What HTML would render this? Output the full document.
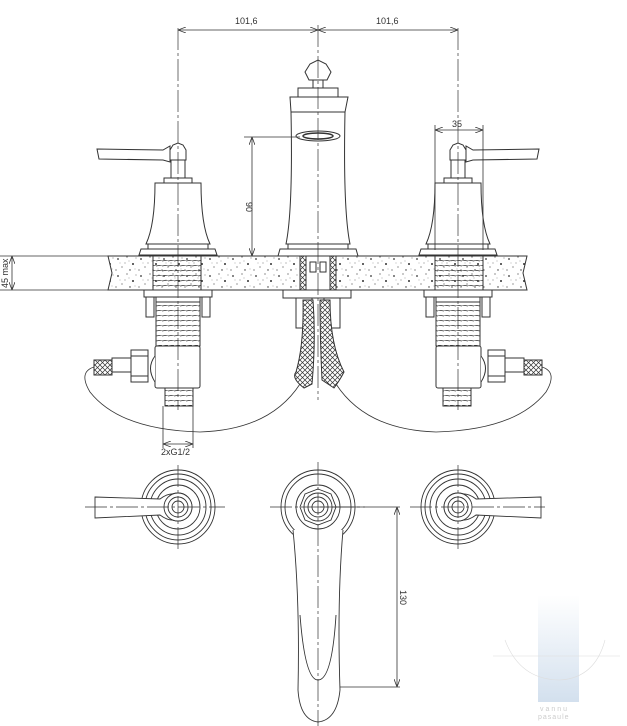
<!DOCTYPE html>
<html><head><meta charset="utf-8"><style>
html,body{margin:0;padding:0;background:#fff;}
svg{display:block;}
text{font-family:"Liberation Sans",sans-serif;fill:#333;font-size:9px;}
</style></head><body>
<svg width="627" height="726" viewBox="0 0 627 726" xmlns="http://www.w3.org/2000/svg">
<defs>
<pattern id="sp" width="23" height="17" patternUnits="userSpaceOnUse">
<rect width="23" height="17" fill="#fff"/>
<circle cx="3" cy="4" r="0.9" fill="#333"/><circle cx="12" cy="2" r="0.6" fill="#444"/>
<circle cx="18" cy="9" r="1" fill="#333"/><circle cx="7" cy="12" r="0.6" fill="#555"/>
<circle cx="15" cy="15" r="0.7" fill="#333"/><circle cx="21" cy="3" r="0.5" fill="#555"/>
<circle cx="1" cy="15" r="0.6" fill="#444"/><circle cx="10" cy="8" r="0.5" fill="#555"/>
<circle cx="5" cy="8" r="0.4" fill="#555"/><circle cx="20" cy="14" r="0.4" fill="#555"/>
<circle cx="14" cy="6" r="0.4" fill="#444"/>
</pattern>
<pattern id="br" width="5" height="5" patternUnits="userSpaceOnUse">
<rect width="5" height="5" fill="#fff"/><path d="M0 0L5 5M5 0L0 5" stroke="#333" stroke-width="0.7"/>
</pattern>
<pattern id="th" width="6" height="5" patternUnits="userSpaceOnUse">
<path d="M0 1L6 0" stroke="#333" stroke-width="0.8"/>
</pattern>
<linearGradient id="wm" x1="0" y1="0" x2="0" y2="1">
<stop offset="0" stop-color="#fff"/><stop offset="1" stop-color="#d3e0ee"/>
</linearGradient>
<marker id="ar" markerWidth="8" markerHeight="6" refX="8" refY="3" orient="auto-start-reverse" markerUnits="userSpaceOnUse">
<path d="M0 0L8 3L0 6" fill="none" stroke="#333" stroke-width="0.8"/>
</marker>
<g id="hnd" fill="#fff" stroke="#333" stroke-width="1">
<path d="M97 149 L163 150 L170 146 L170 162 L163 160 L99 159 Z"/>
<path d="M170 150 L173 145 L178 143 L183 145 L186 150 L186 160 L170 160 Z"/>
<rect x="171" y="160" width="14" height="18"/>
<rect x="164" y="178" width="28" height="5"/>
<path d="M155 183 L201 183 Q201 225 210 244 L146 244 Q155 225 155 183 Z"/>
<rect x="148" y="244" width="60" height="5"/>
<path d="M141 249 L215 249 L217 255 L139 255 Z"/>
<rect x="153" y="256" width="48" height="34" fill="url(#th)"/>
<line x1="153" y1="256" x2="153" y2="290"/><line x1="201" y1="256" x2="201" y2="290"/>
<rect x="144" y="290" width="68" height="7"/>
<rect x="146" y="297" width="8" height="20"/><rect x="202" y="297" width="8" height="20"/>
<rect x="156" y="297" width="44" height="5"/>
<rect x="156" y="302" width="44" height="44" fill="url(#th)"/>
<line x1="156" y1="302" x2="156" y2="346"/><line x1="200" y1="302" x2="200" y2="346"/>
<rect x="155" y="346" width="45" height="42" rx="2" fill="#fff"/>
<rect x="165" y="388" width="28" height="18" fill="url(#th)"/>
<rect x="165" y="388" width="28" height="18" fill="none"/>
<path d="M155 356 Q146 368 155 382"/>
<rect x="131" y="350" width="17" height="32"/>
<line x1="131" y1="356" x2="148" y2="356"/><line x1="131" y1="376" x2="148" y2="376"/>
<rect x="112" y="358" width="19" height="14"/>
<rect x="94" y="360" width="18" height="15" fill="url(#br)"/>
<rect x="94" y="360" width="18" height="15" fill="none"/>
<path d="M94 367 Q78 372 90 392 Q120 430 200 432 Q270 430 300 384" fill="none" stroke-width="0.8"/>
</g>
</defs>

<rect x="538" y="595" width="41" height="107" fill="url(#wm)"/>
<path d="M505 640 Q520 680 560 680 Q595 678 605 640" fill="none" stroke="#ddd" stroke-width="0.6"/>
<line x1="493" y1="656" x2="620" y2="656" stroke="#ddd" stroke-width="0.6"/>
<text x="540" y="711" style="font-size:7px;fill:#ccc;letter-spacing:2px">vannu</text>
<text x="538" y="719" style="font-size:7px;fill:#ccc;letter-spacing:1px">pasaule</text>

<path d="M108 256 L527 256 L523 273 L527 290 L108 290 L112 273 Z" fill="url(#sp)" stroke="#333" stroke-width="1"/>
<line x1="0" y1="256" x2="108" y2="256" stroke="#333" stroke-width="0.8"/>
<line x1="0" y1="290" x2="108" y2="290" stroke="#333" stroke-width="0.8"/>
<line x1="12" y1="256" x2="12" y2="290" stroke="#333" stroke-width="0.8" marker-start="url(#ar)" marker-end="url(#ar)"/>
<text transform="translate(8 288) rotate(-90)" style="font-size:9px">45 max</text>

<use href="#hnd"/>
<use href="#hnd" transform="translate(636 0) scale(-1 1)"/>

<g fill="#fff" stroke="#333" stroke-width="1">
<path d="M305 72 L310 64 L318 60 L326 64 L331 72 L327 80 L309 80 Z"/>
<rect x="313" y="80" width="10" height="8"/>
<rect x="298" y="88" width="40" height="9"/>
<path d="M290 97 L348 97 L345 112 Q343 210 350 244 L286 244 Q293 210 291 112 Z"/>
<line x1="291" y1="112" x2="345" y2="112"/>
<ellipse cx="318" cy="136" rx="22" ry="5"/>
<ellipse cx="318" cy="136" rx="15" ry="3" stroke-width="1.5"/>
<rect x="288" y="244" width="60" height="5"/>
<path d="M280 249 L356 249 L358 256 L278 256 Z"/>
<rect x="300" y="256" width="36" height="34"/>
<rect x="300" y="256" width="6" height="34" fill="url(#br)"/><rect x="330" y="256" width="6" height="34" fill="url(#br)"/>
<rect x="310" y="262" width="6" height="10"/><rect x="320" y="262" width="6" height="10"/>
<rect x="283" y="290" width="68" height="8"/>
<rect x="296" y="298" width="16" height="30"/><rect x="324" y="298" width="16" height="30"/>
<path d="M303 300 L313 300 Q316 340 312 384 L304 388 Q291 378 296 372 Q304 345 303 300 Z" fill="url(#br)"/>
<path d="M320 300 L330 300 Q330 345 344 372 Q340 380 334 388 L322 380 Q320 340 320 300 Z" fill="url(#br)"/>
</g>

<g stroke="#333" stroke-width="0.7" stroke-dasharray="22 3 3 3" fill="none">
<line x1="318" y1="25" x2="318" y2="400"/>
<line x1="178" y1="28" x2="178" y2="410"/>
<line x1="458" y1="28" x2="458" y2="410"/>
</g>

<g stroke="#333" stroke-width="0.8" fill="none">
<line x1="178" y1="30" x2="318" y2="30" marker-start="url(#ar)" marker-end="url(#ar)"/>
<line x1="318" y1="30" x2="458" y2="30" marker-start="url(#ar)" marker-end="url(#ar)"/>
<line x1="435" y1="125" x2="435" y2="250"/><line x1="483" y1="125" x2="483" y2="250"/>
<line x1="435" y1="130" x2="483" y2="130" marker-start="url(#ar)" marker-end="url(#ar)"/>
<line x1="244" y1="137" x2="300" y2="137"/>
<line x1="252" y1="137" x2="252" y2="256" marker-start="url(#ar)" marker-end="url(#ar)"/>
<line x1="163" y1="406" x2="163" y2="448"/><line x1="193" y1="406" x2="193" y2="448"/>
<line x1="163" y1="444" x2="193" y2="444" marker-start="url(#ar)" marker-end="url(#ar)"/>
<line x1="320" y1="507" x2="400" y2="507"/>
<line x1="320" y1="687" x2="400" y2="687"/>
<line x1="397" y1="507" x2="397" y2="687" marker-start="url(#ar)" marker-end="url(#ar)"/>
</g>
<text x="235" y="24">101,6</text>
<text x="376" y="24">101,6</text>
<text x="452" y="127">35</text>
<text transform="translate(246 202) rotate(90)">90</text>
<text x="161" y="455">2xG1/2</text>
<text transform="translate(400 590) rotate(90)">130</text>

<g fill="none" stroke="#333" stroke-width="0.9">
<g id="tv">
<circle cx="178" cy="507" r="37"/><circle cx="178" cy="507" r="33"/><circle cx="178" cy="507" r="28"/>
<circle cx="178" cy="507" r="22"/><circle cx="178" cy="507" r="14"/><circle cx="178" cy="507" r="10"/><circle cx="178" cy="507" r="6"/>
<path d="M95 497 L160 499 Q168 493 175 494 L175 520 Q168 521 160 515 L95 518 Z" fill="#fff"/>
<circle cx="178" cy="507" r="14" fill="#fff"/><circle cx="178" cy="507" r="10"/><circle cx="178" cy="507" r="6"/>
</g>
<use href="#tv" transform="translate(636 0) scale(-1 1)"/>
<circle cx="318" cy="507" r="37"/><circle cx="318" cy="507" r="33"/>
<circle cx="318" cy="507" r="22"/><polygon points="318,489 331,494 336,507 331,520 318,525 305,520 300,507 305,494"/>
<circle cx="318" cy="507" r="14"/><circle cx="318" cy="507" r="10"/><circle cx="318" cy="507" r="6"/>
<path d="M293 530 Q300 600 298 690 Q300 720 318 722 Q337 720 340 690 Q337 600 343 530" fill="#fff"/>
<path d="M300 615 Q305 680 318 680 Q332 680 336 615"/>
</g>
<g stroke="#333" stroke-width="0.7" stroke-dasharray="22 3 3 3" fill="none">
<line x1="85" y1="507" x2="225" y2="507"/><line x1="178" y1="465" x2="178" y2="550"/>
<line x1="270" y1="507" x2="365" y2="507"/><line x1="318" y1="462" x2="318" y2="726"/>
<line x1="410" y1="507" x2="545" y2="507"/><line x1="458" y1="465" x2="458" y2="550"/>
</g>
</svg>
</body></html>
